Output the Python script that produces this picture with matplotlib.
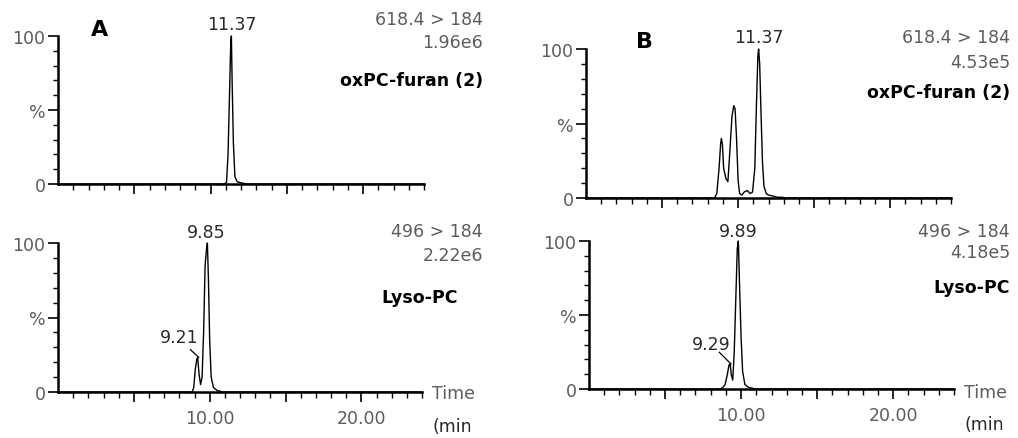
import matplotlib
matplotlib.use("Agg")
import matplotlib.pyplot as plt

# Figure size in pixels (dpi 100)
FIG_W, FIG_H = 1018, 439

# Time axis
X_MAX = 24
MAJOR_TICKS = [5, 10, 15, 20]
MAJOR_LABELS = ["", "10.00", "", "20.00"]
MINOR_TICKS = list(range(1, 25))

# Panel A top: 618.4 > 184, oxPC-furan (2)
A_TOP_TIME = [0, 10.9, 11.05, 11.15, 11.25, 11.33, 11.37, 11.42, 11.5, 11.6, 11.75, 12.0, 12.4, 24]
A_TOP_PCT = [0, 0, 1, 20, 62, 96, 100, 68, 28, 5, 1.5, 0.8, 0, 0]

# Panel A bottom: 496 > 184, Lyso-PC
A_BOT_TIME = [0, 8.85, 8.95, 9.05, 9.15, 9.21, 9.3, 9.4, 9.5, 9.6, 9.7, 9.8, 9.85,
              9.92, 10.0, 10.1, 10.25, 10.5, 10.9, 24]
A_BOT_PCT = [0, 0, 3, 15, 22, 23, 12, 5, 10, 40, 85, 97, 100,
             75, 35, 10, 3, 1, 0, 0]

# Panel B top: 618.4 > 184, oxPC-furan (2)
B_TOP_TIME = [0, 8.45, 8.6, 8.75, 8.85, 8.9, 8.97, 9.05, 9.2, 9.33, 9.45, 9.6, 9.72,
              9.8, 9.9, 10.0, 10.1, 10.25, 10.4, 10.6, 10.8, 10.95, 11.1, 11.2,
              11.3, 11.35, 11.42, 11.5, 11.6, 11.7, 11.85, 12.0, 12.2, 12.4,
              12.6, 12.9, 13.1, 24]
B_TOP_PCT = [0, 0, 3, 20, 36, 40, 36, 20, 13, 11, 30, 55, 62,
             60, 40, 12, 3, 2, 4, 5, 3, 4, 20, 60,
             95, 100, 90, 60, 25, 8, 3, 2, 1.5, 1,
             0.5, 0.5, 0, 0]

# Panel B bottom: 496 > 184, Lyso-PC
B_BOT_TIME = [0, 8.65, 8.8, 8.95, 9.1, 9.2, 9.28, 9.35, 9.45, 9.55, 9.65, 9.75, 9.82,
              9.9, 10.0, 10.1, 10.25, 10.5, 11.0, 24]
B_BOT_PCT = [0, 0, 1, 3, 10, 16, 17, 10, 6, 25, 60, 95, 100,
             70, 35, 12, 3, 1, 0, 0]

GRAY = "#5c5c5c"
DARK = "#2a2a2a"
FONT = "DejaVu Sans"


def px(x, y):
    """pixel position (from top-left) to figure fraction"""
    return x / FIG_W, 1 - y / FIG_H


def make_axes(fig, left, right, y100, y0):
    ax = fig.add_axes([left / FIG_W, 1 - y0 / FIG_H,
                       (right - left) / FIG_W, (y0 - y100) / FIG_H])
    ax.set_xlim(0, X_MAX)
    ax.set_ylim(0, 100)
    ax.patch.set_alpha(0)
    for side in ("top", "right"):
        ax.spines[side].set_visible(False)
    for side in ("left", "bottom"):
        ax.spines[side].set_linewidth(1.8)
    ax.set_yticks([0, 50, 100])
    ax.set_yticklabels(["0", "%", "100"])
    ax.set_yticks(range(10, 100, 10), minor=True)
    ax.set_xticks(MAJOR_TICKS)
    ax.set_xticks(MINOR_TICKS, minor=True)
    ax.tick_params(axis="y", which="major", length=7, width=1.2, pad=2,
                   labelsize=12.5, labelcolor=GRAY)
    ax.tick_params(axis="y", which="minor", length=3.5, width=1)
    ax.tick_params(axis="x", which="major", length=7, width=1.2, pad=5,
                   labelsize=12.5, labelcolor=GRAY)
    ax.tick_params(axis="x", which="minor", length=4, width=1)
    return ax


def draw_trace(ax, t, pct):
    ax.plot(t, pct, color="black", linewidth=1.0, clip_on=False)


def main():
    plt.rcParams["font.family"] = [FONT]
    fig = plt.figure(figsize=(FIG_W / 100, FIG_H / 100), dpi=100)

    # ---- panel A ----
    ax = make_axes(fig, 58, 424, 37, 185)
    draw_trace(ax, A_TOP_TIME, A_TOP_PCT)
    ax.set_xticklabels([""] * len(MAJOR_TICKS))
    ax.text(11.38, 108, "11.37", ha="center", va="center", fontsize=12.5, color=DARK)

    ax = make_axes(fig, 58, 422, 244, 393)
    draw_trace(ax, A_BOT_TIME, A_BOT_PCT)
    ax.set_xticklabels(MAJOR_LABELS)
    ax.text(9.8, 107.5, "9.85", ha="center", va="center", fontsize=12.5, color=DARK)
    ax.text(7.96, 37, "9.21", ha="center", va="center", fontsize=12.5, color=DARK)
    ax.plot([8.73, 9.28], [28.4, 23.3], color="black", linewidth=0.9)

    fig.text(*px(100, 30), "A", ha="center", va="center", fontsize=16, fontweight="bold")
    fig.text(*px(483, 20), "618.4 > 184", ha="right", va="center", fontsize=12.5, color=GRAY)
    fig.text(*px(483, 43), "1.96e6", ha="right", va="center", fontsize=12.5, color=GRAY)
    fig.text(*px(483, 81), "oxPC-furan (2)", ha="right", va="center", fontsize=12.5,
             fontweight="bold")
    fig.text(*px(483, 232), "496 > 184", ha="right", va="center", fontsize=12.5, color=GRAY)
    fig.text(*px(483, 256), "2.22e6", ha="right", va="center", fontsize=12.5, color=GRAY)
    fig.text(*px(458, 298), "Lyso-PC", ha="right", va="center", fontsize=12.5,
             fontweight="bold")
    fig.text(*px(432, 394), "Time", ha="left", va="center", fontsize=12.5, color=GRAY)
    fig.text(*px(432, 427), "(min", ha="left", va="center", fontsize=12.5, color=DARK)

    # ---- panel B ----
    ax = make_axes(fig, 586, 951, 50, 199)
    draw_trace(ax, B_TOP_TIME, B_TOP_PCT)
    ax.set_xticklabels([""] * len(MAJOR_TICKS))
    ax.text(11.35, 108, "11.37", ha="center", va="center", fontsize=12.5, color=DARK)

    ax = make_axes(fig, 589, 954, 242, 390)
    draw_trace(ax, B_BOT_TIME, B_BOT_PCT)
    ax.set_xticklabels(MAJOR_LABELS)
    ax.text(9.8, 107, "9.89", ha="center", va="center", fontsize=12.5, color=DARK)
    ax.text(8.03, 30.5, "9.29", ha="center", va="center", fontsize=12.5, color=DARK)
    ax.plot([8.57, 9.34], [24.8, 16.9], color="black", linewidth=0.9)

    fig.text(*px(645, 42), "B", ha="center", va="center", fontsize=16, fontweight="bold")
    fig.text(*px(1010, 38), "618.4 > 184", ha="right", va="center", fontsize=12.5, color=GRAY)
    fig.text(*px(1010, 63), "4.53e5", ha="right", va="center", fontsize=12.5, color=GRAY)
    fig.text(*px(1010, 93), "oxPC-furan (2)", ha="right", va="center", fontsize=12.5,
             fontweight="bold")
    fig.text(*px(1010, 232), "496 > 184", ha="right", va="center", fontsize=12.5, color=GRAY)
    fig.text(*px(1010, 253), "4.18e5", ha="right", va="center", fontsize=12.5, color=GRAY)
    fig.text(*px(1010, 288), "Lyso-PC", ha="right", va="center", fontsize=12.5,
             fontweight="bold")
    fig.text(*px(964, 393), "Time", ha="left", va="center", fontsize=12.5, color=GRAY)
    fig.text(*px(964, 425), "(min", ha="left", va="center", fontsize=12.5, color=DARK)

    fig.savefig("out.png", dpi=100, facecolor="white")
    plt.close(fig)


if __name__ == "__main__":
    main()
